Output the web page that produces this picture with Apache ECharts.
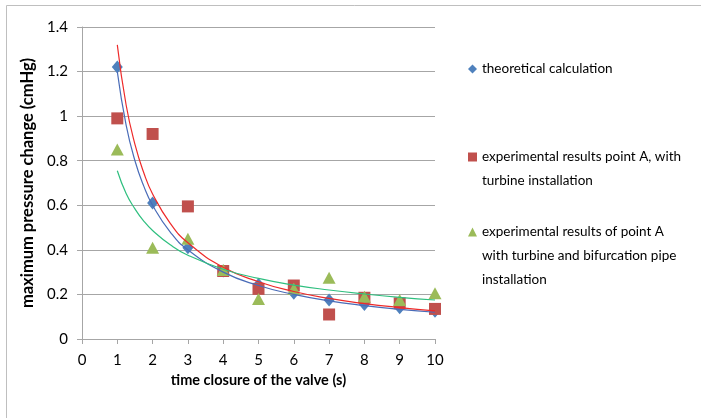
<!DOCTYPE html>
<html><head><meta charset="utf-8">
<script src="https://cdn.jsdelivr.net/npm/echarts@6/dist/echarts.min.js"></script>
<style>html,body{margin:0;padding:0;background:#fff}#c{width:701px;height:418px}</style>
</head><body><div id="c"></div>
<script>
const xValues = [1, 2, 3, 4, 5, 6, 7, 8, 9, 10];
const theoretical = [1.22, 0.61, 0.41, 0.305, 0.245, 0.205, 0.175, 0.155, 0.14, 0.125];
const expTurbine = [0.99, 0.92, 0.595, 0.305, 0.225, 0.24, 0.11, 0.185, 0.16, 0.135];
const expBifurcation = [0.85, 0.41, 0.45, 0.31, 0.18, 0.225, 0.275, 0.19, 0.175, 0.205];
// trend lines
const trendX = [1, 1.25, 1.5, 1.75, 2, 2.5, 3, 4, 5, 6, 7, 8, 9, 10];
const trendTheoretical = [1.20, 0.96, 0.80, 0.686, 0.60, 0.48, 0.40, 0.30, 0.24, 0.20, 0.171, 0.15, 0.133, 0.12];
const trendTurbine = [1.32, 1.05, 0.873, 0.746, 0.651, 0.519, 0.432, 0.322, 0.257, 0.213, 0.182, 0.159, 0.141, 0.126];
const trendBifurcation = [0.755, 0.653, 0.584, 0.529, 0.487, 0.423, 0.376, 0.313, 0.272, 0.242, 0.220, 0.202, 0.187, 0.175];
const names = ['theoretical calculation', 'experimental results point A, with turbine installation', 'experimental results of point A with turbine and bifurcation pipe installation'];
const legendText = {};
legendText[names[0]] = 'theoretical calculation';
legendText[names[1]] = '\nexperimental results point A, with\nturbine installation';
legendText[names[2]] = '\n\nexperimental results of point A\nwith turbine and bifurcation pipe\ninstallation';

const pair = (xs, ys) => xs.map((x, i) => [x, ys[i]]);
const FONT = 'Lato';
const chart = echarts.init(document.getElementById('c'));
const legendBase = {
  orient: 'vertical', left: 463, itemWidth: 9, itemHeight: 9, itemGap: 0, itemStyle: { borderWidth: 0 },
  formatter: n => legendText[n],
  textStyle: { fontFamily: FONT, fontSize: 13.5, color: '#000', lineHeight: 24 }
};
chart.setOption({
  animation: false,
  textStyle: { fontFamily: FONT },
  graphic: [{ type: 'rect', shape: { x: 6.5, y: 5.5, width: 720, height: 440 }, style: { fill: 'none', stroke: '#bfbfbf', lineWidth: 1 }, silent: true }],
  grid: { left: 82, top: 27, width: 353, height: 312 },
  legend: [
    Object.assign({}, legendBase, { top: 69 - 12 - 5, data: [{ name: names[0], icon: 'diamond' }] }),
    Object.assign({}, legendBase, { top: 157 - 36 - 5, data: [{ name: names[1], icon: 'rect' }] }),
    Object.assign({}, legendBase, { top: 232 - 60 - 5, data: [{ name: names[2], icon: 'triangle' }] })
  ],
  xAxis: {
    type: 'value', min: 0, max: 10, interval: 1,
    name: 'time closure of the valve (s)', nameLocation: 'middle', nameGap: 34,
    nameTextStyle: { fontFamily: FONT, fontSize: 14.5, fontWeight: 'bold', color: '#000' },
    axisLine: { onZero: false, lineStyle: { color: '#a6a6a6' } },
    axisTick: { show: true, length: 5, lineStyle: { color: '#a6a6a6' } },
    axisLabel: { fontFamily: FONT, fontSize: 15, color: '#000', margin: 14 },
    splitLine: { show: false }
  },
  yAxis: {
    type: 'value', min: 0, max: 1.4, interval: 0.2,
    name: 'maximum pressure change (cmHg)', nameLocation: 'middle', nameGap: 33,
    nameTextStyle: { fontFamily: FONT, fontSize: 16.5, fontWeight: 'bold', color: '#000' },
    axisLine: { show: true, lineStyle: { color: '#a6a6a6' } },
    axisTick: { show: true, length: 5, lineStyle: { color: '#a6a6a6' } },
    axisLabel: { fontFamily: FONT, fontSize: 15, color: '#000', margin: 14, formatter: v => String(+v.toFixed(1)) },
    splitLine: { show: true, lineStyle: { color: '#a6a6a6' } }
  },
  series: [
    { name: names[0], type: 'scatter', symbol: 'diamond', symbolSize: [11, 13], itemStyle: { color: '#4f81bd', opacity: 1 }, data: pair(xValues, theoretical), z: 2 },
    { name: names[1], type: 'scatter', symbol: 'rect', symbolSize: 12, itemStyle: { color: '#c0504d', opacity: 1 }, data: pair(xValues, expTurbine), z: 2 },
    { name: names[2], type: 'scatter', symbol: 'triangle', symbolSize: [13, 12], itemStyle: { color: '#9bbb59', opacity: 1 }, data: pair(xValues, expBifurcation), z: 2 },
    { name: 'trend1', type: 'line', smooth: true, showSymbol: false, symbol: 'none', lineStyle: { color: '#4a6cb8', width: 1.2 }, data: pair(trendX, trendTheoretical), z: 3 },
    { name: 'trend2', type: 'line', smooth: true, showSymbol: false, symbol: 'none', lineStyle: { color: '#ee2a2a', width: 1.2 }, data: pair(trendX, trendTurbine), z: 3 },
    { name: 'trend3', type: 'line', smooth: true, showSymbol: false, symbol: 'none', lineStyle: { color: '#2fbf7f', width: 1.2 }, data: pair(trendX, trendBifurcation), z: 3 }
  ]
});
</script></body></html>
